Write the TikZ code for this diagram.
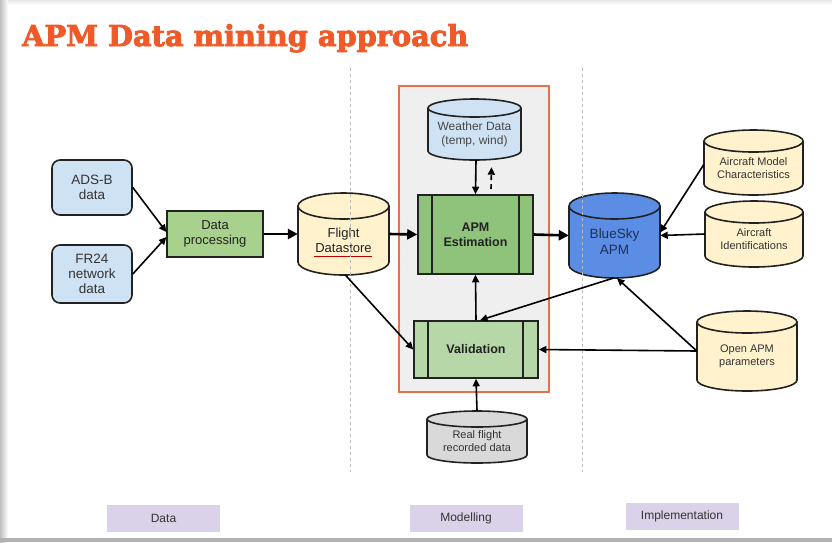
\documentclass[tikz,border=0pt]{standalone}
\usepackage{fontspec}
\usepackage{graphicx}
\setmainfont{Liberation Sans}
\newfontfamily\titlefont{DejaVu Serif}[BoldFeatures={FakeBold=3}]
\usetikzlibrary{arrows.meta,calc}

\definecolor{titleorange}{HTML}{F05A28}
\definecolor{lightblue}{HTML}{CFE2F3}
\definecolor{paleyellow}{HTML}{FFF2CC}
\definecolor{midgreen}{HTML}{8FC27A}
\definecolor{procgreen}{HTML}{A8D18E}
\definecolor{palegreen}{HTML}{B6D7A8}
\definecolor{skyblue}{HTML}{5A8DE3}
\definecolor{lavender}{HTML}{D9D2E9}
\definecolor{boxorange}{HTML}{E4724F}
\definecolor{panelgrey}{HTML}{EFEFEF}
\definecolor{inkgrey}{HTML}{333333}
\definecolor{navytext}{HTML}{1F2F55}
\definecolor{edgeink}{HTML}{222222}

\tikzset{
  outline/.style={draw=edgeink, line width=1.6pt},
  srcbox/.style={outline, fill=lightblue, rounded corners=8pt, inner sep=0pt,
    align=center, text=inkgrey, font=\fontsize{13.5}{15}\selectfont},
  procbox/.style={outline, inner sep=0pt, align=center, text=edgeink,
    font=\fontsize{12.5}{15}\selectfont\bfseries},
  phase/.style={fill=lavender, inner sep=0pt, minimum width=113pt,
    minimum height=27pt, text=inkgrey, font=\fontsize{12}{14}\selectfont},
  conn/.style={draw=black, line width=1.6pt, -{Triangle[length=7.5pt,width=7pt]}},
  flow/.style={draw=black, line width=2.6pt, -{Triangle[length=10pt,width=10pt]}},
  divider/.style={draw=gray!55, line width=0.9pt, dash pattern=on 3pt off 3pt},
}

% database cylinder: name, left, top, right, bottom, cap half-height, fill, text, text style
\newcommand{\dbcyl}[9]{%
  \pgfmathsetmacro\cylcx{(#2+#4)/2}%
  \pgfmathsetmacro\cylcy{(#3+#5)/2}%
  \pgfmathsetmacro\cylrx{(#4-#2)/2}%
  \pgfmathsetmacro\cyltop{#3+#6}%
  \pgfmathsetmacro\cylbot{#5-#6}%
  \pgfmathsetmacro\cylw{#4-#2}%
  \pgfmathsetmacro\cylh{#5-#3}%
  \pgfmathsetmacro\cylly{(#3+#6+#5)/2}%
  \node[inner sep=0pt, minimum width=\cylw pt, minimum height=\cylh pt] (#1) at (\cylcx,\cylcy) {};
  \fill[#7] (#2,\cyltop) -- (#2,\cylbot)
     arc[start angle=180, end angle=360, x radius=\cylrx pt, y radius=#6pt]
     -- (#4,\cyltop)
     arc[start angle=0, end angle=180, x radius=\cylrx pt, y radius=#6pt] -- cycle;
  \draw[outline] (#2,\cyltop) -- (#2,\cylbot)
     arc[start angle=180, end angle=360, x radius=\cylrx pt, y radius=#6pt]
     -- (#4,\cyltop);
  \draw[outline] (\cylcx,\cyltop) ellipse[x radius=\cylrx pt, y radius=#6pt];
  \node[align=center, inner sep=0pt, #9] (#1-label) at (\cylcx,\cylly) {#8};
}

\begin{document}
\begin{tikzpicture}[x=1pt, y=-1pt]
\useasboundingbox (0,0) rectangle (832,542);

% slide background and its shadow
\fill[white] (0,0) rectangle (832,542);
\shade[left color=gray!50, right color=white] (0,0) rectangle (8,542);
\shade[top color=gray!18, bottom color=white] (8,0) rectangle (832,5);
\fill[gray!60] (0,538) rectangle (832,542);

% title
\node[anchor=base west, inner sep=0pt, text=titleorange] (title) at (22,46)
  {\resizebox{446pt}{!}{\titlefont\bfseries APM Data mining approach}};

% modelling panel
\node[draw=boxorange, fill=panelgrey, line width=1.5pt, inner sep=0pt,
      minimum width=150pt, minimum height=306pt] (panel) at (474,239) {};

% data sources
\node[srcbox, minimum width=80pt, minimum height=55pt] (adsb) at (92,187.5) {ADS-B\\data};
\node[srcbox, minimum width=80pt, minimum height=58pt] (fr24) at (92,274) {FR24\\network\\data};

% data processing
\node[draw=edgeink, line width=1.2pt, fill=procgreen, inner sep=0pt, align=center,
      text=edgeink, font=\fontsize{13}{15}\selectfont,
      minimum width=96pt, minimum height=46pt] (dproc) at (215,234) {Data\\processing};

% stores
\dbcyl{fds}{298}{193}{389}{275}{13}{paleyellow}{Flight\\Datastore}{text=edgeink, font=\fontsize{13}{15}\selectfont}
\draw[red!75!black, line width=0.6pt] (314,256.5) -- (372,256.5);

\dbcyl{weather}{428}{99}{521}{160}{9}{lightblue}{Weather Data\\(temp, wind)}{text=inkgrey!90, font=\fontsize{12}{14}\selectfont}

\dbcyl{bluesky}{569}{193}{660}{278}{13}{skyblue}{BlueSky\\APM}{text=navytext, font=\fontsize{13.5}{16}\selectfont}

\dbcyl{acmodel}{704}{130}{803}{195}{11}{paleyellow}{Aircraft Model\\Characteristics}{text=inkgrey, font=\fontsize{11}{13}\selectfont}
\dbcyl{acid}{705}{201}{803}{267}{11}{paleyellow}{Aircraft\\Identifications}{text=inkgrey, font=\fontsize{11}{13}\selectfont}
\dbcyl{openapm}{697}{311}{797}{391}{11}{paleyellow}{Open APM\\parameters}{text=inkgrey, font=\fontsize{11}{13}\selectfont}
\dbcyl{realflight}{427}{411}{527}{463}{8}{gray!30}{Real flight\\recorded data}{text=inkgrey, font=\fontsize{11}{13}\selectfont}

% phase dividers, running over the stores they cross
\draw[divider] (350,68) -- (350,472);
\draw[divider] (582,68) -- (582,472);

% process steps
\node[procbox, fill=midgreen, minimum width=115pt, minimum height=79pt] (apm) at (475.5,234.5) {APM\\Estimation};
\draw[outline] ($(apm.north west)+(15,0)$) -- ($(apm.south west)+(15,0)$);
\draw[outline] ($(apm.north east)+(-15,0)$) -- ($(apm.south east)+(-15,0)$);

\node[procbox, fill=palegreen, minimum width=124pt, minimum height=57pt] (valid) at (476,349.5) {Validation};
\draw[outline] ($(valid.north west)+(15,0)$) -- ($(valid.south west)+(15,0)$);
\draw[outline] ($(valid.north east)+(-16,0)$) -- ($(valid.south east)+(-16,0)$);

% connectors
\draw[conn] (adsb.east) -- ([yshift=2pt]dproc.west);
\draw[conn] (fr24.east) -- ([yshift=-3pt]dproc.west);
\draw[flow] (dproc.east) -- (fds.west);
\draw[flow] (fds.east) -- (apm.west);
\draw[flow] (apm.east) -- (bluesky.west);
\draw[conn] ([xshift=1.5pt]weather.south) -- (apm.north);
\coordinate (fbfrom) at ($(apm.north)+(15.5,-5)$);
\coordinate (fbto) at ($(weather.south)+(17,7)$);
\draw[conn, dash pattern=on 5pt off 4pt] (fbfrom) -- (fbto);
\draw[conn] (valid.north) -- (apm.south);
\draw[conn] ([xshift=-1.5pt]bluesky.south) -- ([xshift=4pt]valid.north);
\draw[conn] (openapm.west) -- (valid.east);
\draw[conn] (openapm.west) -- ([xshift=2.5pt]bluesky.south);
\draw[conn] ([yshift=-2pt]acmodel.west) -- ([yshift=3pt]bluesky.east);
\draw[conn] (acid.west) -- (bluesky.east);
\draw[conn] (realflight.north) -- (valid.south);
\draw[conn] ([xshift=2pt]fds.south) -- (valid.west);

% phase labels
\node[phase] (phdata) at (163.5,518.5) {Data};
\node[phase] (phmodel) at (466,518.5) {Modelling};
\node[phase] (phimpl) at (682,516) {Implementation};
\end{tikzpicture}
\end{document}
